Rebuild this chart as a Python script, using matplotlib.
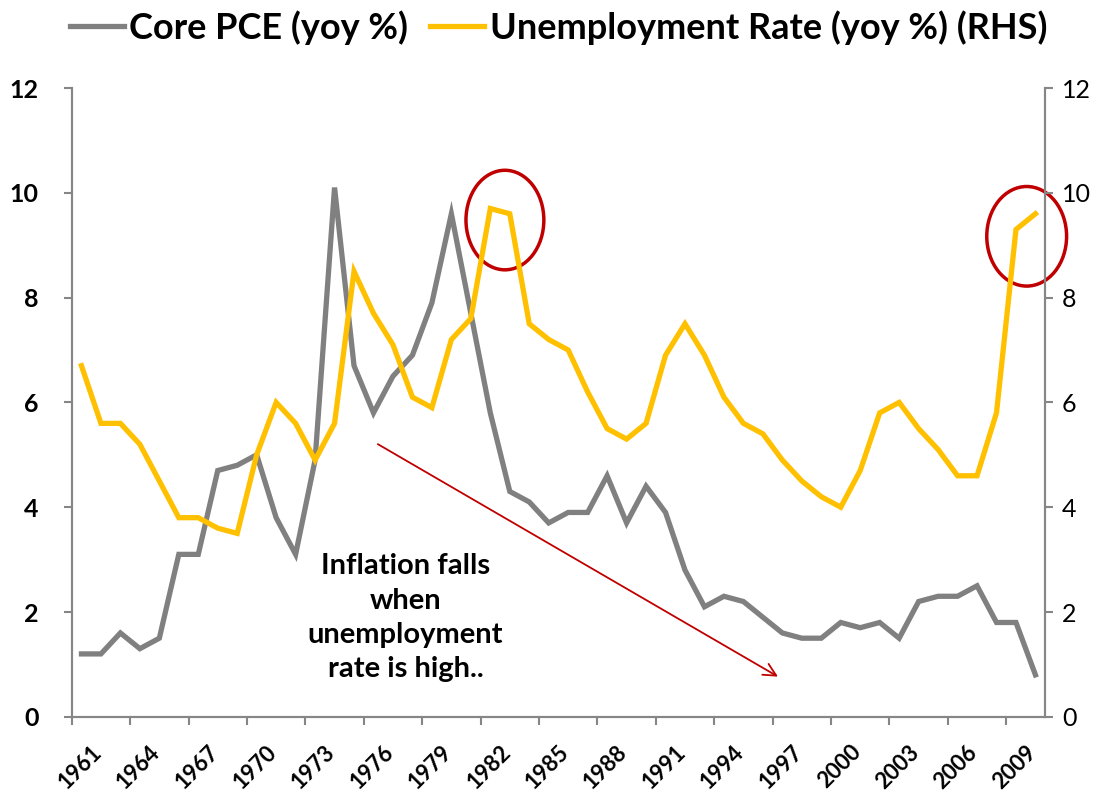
import matplotlib.pyplot as plt
import matplotlib.transforms as mtransforms
from matplotlib.patches import Ellipse

plt.rcParams['font.family'] = ['Lato', 'DejaVu Sans']

# Data
years = list(range(1961, 2011))
core_pce = [1.2, 1.2, 1.6, 1.3, 1.5, 3.1, 3.1, 4.7, 4.8, 5.0,
            3.8, 3.1, 4.9, 10.1, 6.7, 5.8, 6.5, 6.9, 7.9, 9.6,
            7.7, 5.8, 4.3, 4.1, 3.7, 3.9, 3.9, 4.6, 3.7, 4.4,
            3.9, 2.8, 2.1, 2.3, 2.2, 1.9, 1.6, 1.5, 1.5, 1.8,
            1.7, 1.8, 1.5, 2.2, 2.3, 2.3, 2.5, 1.8, 1.8, 0.8]
unemployment = [6.7, 5.6, 5.6, 5.2, 4.5, 3.8, 3.8, 3.6, 3.5, 5.0,
                6.0, 5.6, 4.9, 5.6, 8.5, 7.7, 7.1, 6.1, 5.9, 7.2,
                7.6, 9.7, 9.6, 7.5, 7.2, 7.0, 6.2, 5.5, 5.3, 5.6,
                6.9, 7.5, 6.9, 6.1, 5.6, 5.4, 4.9, 4.5, 4.2, 4.0,
                4.7, 5.8, 6.0, 5.5, 5.1, 4.6, 4.6, 5.8, 9.3, 9.6]
label_years = years[::3]

GRAY = "#808080"
YELLOW = "#FFC000"
RED = "#C00000"
AXIS = "#868686"

fig = plt.figure(figsize=(10.95, 8), dpi=100)
ax = fig.add_axes([0.0655, 0.104, 0.889, 0.786])
ax2 = ax.twinx()

x = [i + 0.5 for i in range(len(years))]
l1, = ax.plot(x, core_pce, color=GRAY, lw=3.8, solid_joinstyle="miter",
              label="Core PCE (yoy %)")
l2, = ax2.plot(x, unemployment, color=YELLOW, lw=3.8, solid_joinstyle="miter",
               label="Unemployment Rate (yoy %) (RHS)")

for a in (ax, ax2):
    a.set_xlim(0, len(years))
    a.set_ylim(0, 12)
    a.set_yticks(range(0, 13, 2))
    a.spines["top"].set_visible(False)
    for s in ("left", "right", "bottom"):
        a.spines[s].set_color(AXIS)
        a.spines[s].set_linewidth(1.5)

# x axis: ticks between categories, labels on category centres
ax.set_xticks(range(0, len(years), 3))
ax.set_xticklabels([])
ax.tick_params(axis="x", which="major", length=6, width=1.5, color=AXIS)
ax.set_xticks([years.index(y) + 0.5 for y in label_years], minor=True)
ax.set_xticklabels([str(y) for y in label_years], minor=True, rotation=45,
                   ha="right", va="center", rotation_mode="anchor",
                   fontsize=16, fontweight="bold")
ax.tick_params(axis="x", which="minor", length=0, pad=23)
shift = mtransforms.ScaledTranslation(12 / 72, 0, fig.dpi_scale_trans)
for t in ax.get_xticklabels(minor=True):
    t.set_transform(t.get_transform() + shift)

ax.tick_params(axis="y", length=6, width=1.5, color=AXIS, labelsize=18, pad=18)
for t in ax.get_yticklabels():
    t.set_fontweight("bold")
ax2.tick_params(axis="y", length=6, width=1.5, color=AXIS, labelsize=18, pad=6)

# annotations
ax2.add_patch(Ellipse((22.25, 9.48), 4.0, 1.9, fill=False, ec=RED, lw=2.5, clip_on=False))
ax2.add_patch(Ellipse((49.05, 9.17), 4.1, 1.9, fill=False, ec=RED, lw=2.5, clip_on=False))
ax2.annotate("", xy=(36.4, 0.74), xytext=(15.6, 5.23),
             arrowprops=dict(arrowstyle="->,head_length=0.9,head_width=0.45",
                             color=RED, lw=1.3))
ax2.text(17.14, 1.89, "Inflation falls\nwhen\nunemployment\nrate is high..",
         ha="center", va="center", fontsize=21, fontweight="bold",
         linespacing=1.4)

fig.legend(handles=[l1, l2], loc="center", bbox_to_anchor=(0.51, 0.966),
           ncol=2, frameon=False, handlelength=1.5, handletextpad=0.15,
           columnspacing=0.6, prop={"size": 26, "weight": "bold"})

fig.savefig("out.png", dpi=100)
